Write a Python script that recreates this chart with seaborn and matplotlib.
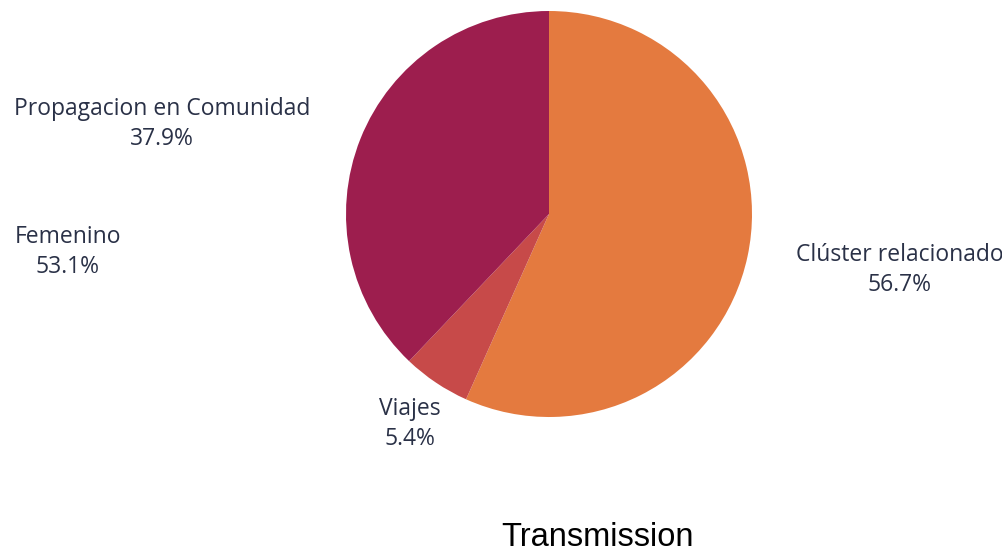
import matplotlib
matplotlib.use("Agg")
from matplotlib import pyplot as plt
import seaborn as sns

# data
labels = ["Clúster relacionado", "Viajes", "Propagacion en Comunidad"]
values = [56.7, 5.4, 37.9]
colors = ["#E47A3F", "#C74A49", "#9D1E4E"]
# stray label from a second series that shows up on the left
extra_label = "Femenino"
extra_value = 53.1
title = "Transmission"

sns.set_style("white")
plt.rcParams['font.family'] = ['Open Sans', 'DejaVu Sans']
txt = "#2A3147"

fig = plt.figure(figsize=(10.03, 5.6), dpi=100)
ax = fig.add_axes([0, 0, 1, 1])

cx, cy, r = 549, 560 - 214, 203
wedges, _ = ax.pie(values, colors=colors, startangle=90, counterclock=False,
                   center=(cx, cy), radius=r, frame=True,
                   wedgeprops=dict(linewidth=0))
ax.set_xlim(0, 1003)
ax.set_ylim(0, 560)
ax.set_aspect("equal")
ax.axis("off")

# label positions (pixel coords, y from top)
pos = {"Clúster relacionado": (900, 270),
       "Viajes": (410, 424),
       "Propagacion en Comunidad": (162, 124)}
for lab, val in zip(labels, values):
    x, y = pos[lab]
    ax.text(x, 560 - y, f"{lab}\n{val}%", ha="center", va="center",
            fontsize=16.5, color=txt, linespacing=1.35, clip_on=False)
ax.text(68, 560 - 252, f"{extra_label}\n{extra_value}%", ha="center", va="center",
        fontsize=16.5, color=txt, linespacing=1.35)

fig.text(598 / 1003, 1 - 538 / 560, title, ha="center", va="center",
         fontsize=23.5, family=["Liberation Sans"], color="black")

fig.savefig("out.png", dpi=100)
